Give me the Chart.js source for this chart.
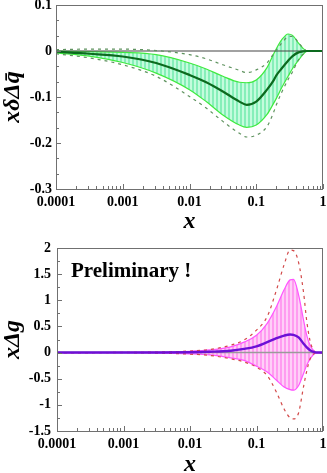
<!DOCTYPE html>
<html>
<head>
<meta charset="utf-8">
<script src="https://cdn.jsdelivr.net/npm/chart.js@4.4.0/dist/chart.umd.min.js"></script>
<style>
  html, body { margin: 0; padding: 0; background: #fff; overflow: hidden; }
  #wrap { position: relative; width: 327px; height: 473px; overflow: hidden; }
  canvas { position: absolute; left: 0; }
  #c1 { top: 0; }
  #c2 { top: 235px; }
  #prelim { position: absolute; left: 71px; top: 260px; font: bold 21px "Liberation Serif", serif; line-height: 21px; color: #000; white-space: nowrap; }
</style>
</head>
<body>
<div id="wrap">
  <canvas id="c1" width="327" height="235"></canvas>
  <canvas id="c2" width="327" height="243"></canvas>
  <div id="prelim">Preliminary !</div>
</div>
<script>
// === TOP PANEL: x * delta qbar ===
const xTop = [0.0001, 0.000316, 0.001, 0.00316, 0.01, 0.0178, 0.0316, 0.056, 0.072, 0.1, 0.145, 0.18, 0.2, 0.24, 0.3, 0.35, 0.43, 0.5, 0.58, 0.7, 1];
const qbarCentral = [-0.0015, -0.006, -0.012, -0.026, -0.052, -0.068, -0.088, -0.110, -0.117, -0.110, -0.084, -0.065, -0.053, -0.038, -0.021, -0.011, -0.003, -0.001, 0, 0, 0];
const qbarBandUp  = [0, -0.0015, -0.003, -0.008, -0.026, -0.039, -0.055, -0.068, -0.069, -0.063, -0.036, -0.008, 0.005, 0.024, 0.037, 0.034, 0.017, 0.006, 0, 0, 0];
const qbarBandLow = [-0.004, -0.011, -0.025, -0.048, -0.084, -0.110, -0.139, -0.161, -0.166, -0.161, -0.138, -0.115, -0.103, -0.080, -0.055, -0.038, -0.020, -0.008, 0, 0, 0];
const qbarDashUp  = [0.003, 0.004, 0.004, 0.001, -0.008, -0.017, -0.030, -0.042, -0.047, -0.041, -0.026, -0.007, 0.002, 0.017, 0.031, 0.032, 0.018, 0.007, 0, 0, 0];
const qbarDashLow = [-0.006, -0.015, -0.030, -0.055, -0.099, -0.124, -0.153, -0.179, -0.187, -0.183, -0.164, -0.135, -0.117, -0.090, -0.062, -0.045, -0.019, -0.007, 0, 0, 0];

// === BOTTOM PANEL: x * delta g ===
const xBot = [0.0001, 0.001, 0.003, 0.01, 0.02, 0.041, 0.065, 0.1, 0.145, 0.2, 0.26, 0.32, 0.36, 0.43, 0.51, 0.57, 0.64, 0.72, 0.8, 1];
const gCentral = [0, 0, 0.002, 0.007, 0.015, 0.035, 0.07, 0.12, 0.2, 0.275, 0.325, 0.346, 0.34, 0.29, 0.17, 0.1, 0.045, 0.012, 0, 0];
const gBandUp  = [0, 0.002, 0.008, 0.025, 0.05, 0.11, 0.2, 0.33, 0.56, 0.88, 1.2, 1.39, 1.40, 1.1, 0.62, 0.33, 0.14, 0.04, 0, 0];
const gBandLow = [0, -0.002, -0.008, -0.025, -0.045, -0.1, -0.15, -0.26, -0.37, -0.53, -0.66, -0.71, -0.72, -0.63, -0.40, -0.24, -0.12, -0.04, 0, 0];
const gDashUp  = [0, 0.003, 0.01, 0.03, 0.06, 0.14, 0.24, 0.43, 0.69, 1.2, 1.68, 1.96, 1.95, 1.72, 1.15, 0.6, 0.22, 0.045, 0, 0];
const gDashLow = [0, -0.003, -0.01, -0.03, -0.055, -0.12, -0.18, -0.28, -0.44, -0.76, -1.08, -1.25, -1.27, -1.15, -0.65, -0.35, -0.12, -0.03, 0, 0];

// === TICKS ===
const xTickValues = [0.0001, 0.001, 0.01, 0.1, 1];
const xTickLabels = ['0.0001', '0.001', '0.01', '0.1', '1'];
const yTickValuesTop = [-0.3, -0.2, -0.1, 0, 0.1];
const yTickLabelsTop = ['-0.3', '-0.2', '-0.1', '0', '0.1'];
const yTickValuesBot = [-1.5, -1, -0.5, 0, 0.5, 1, 1.5, 2];
const yTickLabelsBot = ['-1.5', '-1', '-0.5', '0', '0.5', '1', '1.5', '2'];

const SERIF = '"Liberation Serif", "Times New Roman", serif';

function pts(xs, ys) {
  return xs.map((x, i) => ({ x: x, y: ys[i] }));
}

function stripes(c1, c2) {
  const p = document.createElement('canvas');
  p.width = 4; p.height = 1;
  const g = p.getContext('2d');
  g.fillStyle = c1; g.fillRect(0, 0, 2, 1);
  g.fillStyle = c2; g.fillRect(2, 0, 2, 1);
  return g.createPattern(p, 'repeat');
}

// zero line under the curves, frame and inward tick marks
const frameTicks = {
  id: 'frameTicks',
  afterDatasetDraw(chart, args, opts) {
    if (args.index !== opts.zeroAfter) return;
    const ctx = chart.ctx;
    const y0 = chart.scales.y.getPixelForValue(0);
    const a = chart.chartArea;
    ctx.save();
    ctx.strokeStyle = opts.zeroColor;
    ctx.lineWidth = opts.zeroWidth;
    ctx.beginPath();
    ctx.moveTo(a.left, y0);
    ctx.lineTo(a.right, y0);
    ctx.stroke();
    ctx.restore();
  },
  afterDraw(chart, args, opts) {
    const ctx = chart.ctx;
    const a = chart.chartArea;
    const xs = chart.scales.x, ys = chart.scales.y;
    ctx.save();
    ctx.strokeStyle = '#707070';
    ctx.lineWidth = 1;
    ctx.beginPath();
    // x ticks: decades + 2..9
    for (let d = 0; d < xTickValues.length; d++) {
      const dec = xTickValues[d];
      for (let k = 1; k <= 9; k++) {
        const v = dec * k;
        if (v > xs.max * 1.0001) break;
        const px = Math.round(xs.getPixelForValue(v)) + 0.5;
        const len = k === 1 ? 5 : 3;
        ctx.moveTo(px, a.bottom);
        ctx.lineTo(px, a.bottom - len);
      }
    }
    // y ticks
    const n = Math.round((ys.max - ys.min) / opts.yMinor);
    for (let i = 0; i <= n; i++) {
      const v = ys.min + i * opts.yMinor;
      const py = Math.round(ys.getPixelForValue(v)) + 0.5;
      const major = i % opts.ySub === 0;
      ctx.moveTo(a.left, py);
      ctx.lineTo(a.left + (major ? 5 : 3), py);
    }
    ctx.stroke();
    ctx.strokeRect(Math.round(a.left) + 0.5, Math.round(a.top) + 0.5, Math.round(a.right - a.left) - 1, Math.round(a.bottom - a.top));
    ctx.restore();
  }
};

function makeChart(el, cfg) {
  const tickFont = { family: SERIF, size: 14, weight: 'bold' };
  const titleFont = { family: SERIF, size: 24, weight: 'bold', style: 'italic', lineHeight: 1 };
  return new Chart(el, {
    type: 'line',
    data: { datasets: cfg.datasets },
    options: {
      responsive: false,
      animation: false,
      events: [],
      layout: { padding: cfg.padding },
      elements: { point: { radius: 0 }, line: { cubicInterpolationMode: 'monotone' } },
      plugins: {
        legend: { display: false },
        tooltip: { enabled: false },
        frameTicks: cfg.frame
      },
      scales: {
        x: {
          type: 'logarithmic', min: 0.0001, max: 1,
          afterBuildTicks: s => { s.ticks = xTickValues.map(v => ({ value: v })); },
          afterFit: s => { s.height = cfg.xHeight; s.paddingLeft = 0; s.paddingRight = 0; },
          grid: { display: false, drawTicks: false },
          border: { display: false },
          ticks: { autoSkip: false, maxRotation: 0, padding: 5, color: '#000', font: tickFont,
                   callback: (v, i) => xTickLabels[i] },
          title: { display: true, text: 'x', color: '#000', font: titleFont, padding: { top: 0, bottom: 1 } }
        },
        y: {
          min: cfg.yMin, max: cfg.yMax,
          afterBuildTicks: s => { s.ticks = cfg.yTicks.map(v => ({ value: v })); },
          afterFit: s => { s.width = cfg.yWidth; s.paddingTop = 0; s.paddingBottom = 0; },
          grid: { display: false, drawTicks: false },
          border: { display: false },
          ticks: { padding: cfg.yPad, color: '#000', font: tickFont,
                   callback: (v, i) => cfg.yLabels[i] },
          title: { display: true, text: cfg.yTitle, color: '#000', font: titleFont, padding: { top: 1, bottom: 0 } }
        }
      }
    },
    plugins: [frameTicks]
  });
}

// === TOP CHART ===
const greenFill = stripes('#86efb9', '#c4fcdd');
makeChart(document.getElementById('c1'), {
  padding: { top: 5, right: 4, left: 0, bottom: 0 },
  xHeight: 46, yWidth: 56, yPad: 4,
  yMin: -0.3, yMax: 0.1,
  yTicks: yTickValuesTop, yLabels: yTickLabelsTop,
  yTitle: 'xδΔq\u0304',
  frame: { zeroAfter: 4, zeroColor: '#444', zeroWidth: 1.2, yMinor: 0.1 / 3, ySub: 3 },
  datasets: [
    { data: pts(xTop, qbarCentral), borderColor: '#0c6a1e', borderWidth: 2.2, fill: false },
    { data: pts(xTop, qbarDashUp), borderColor: '#5f935f', borderWidth: 1.2, borderDash: [3, 4], fill: false },
    { data: pts(xTop, qbarDashLow), borderColor: '#5f935f', borderWidth: 1.2, borderDash: [3, 4], fill: false },
    { data: pts(xTop, qbarBandLow), borderColor: '#3fea3f', borderWidth: 1.2, fill: false },
    { data: pts(xTop, qbarBandUp), borderColor: '#3fea3f', borderWidth: 1.2, fill: '-1', backgroundColor: greenFill }
  ]
});

// === BOTTOM CHART ===
const pinkFill = stripes('#ff9cf0', '#ffcff8');
makeChart(document.getElementById('c2'), {
  padding: { top: 13, right: 4, left: 0, bottom: 0 },
  xHeight: 47, yWidth: 57, yPad: 6,
  yMin: -1.5, yMax: 2,
  yTicks: yTickValuesBot, yLabels: yTickLabelsBot,
  yTitle: 'xΔg',
  frame: { zeroAfter: 4, zeroColor: '#9a9a9a', zeroWidth: 1.6, yMinor: 0.25, ySub: 2 },
  datasets: [
    { data: pts(xBot, gCentral), borderColor: '#6c10d6', borderWidth: 2.4, fill: false },
    { data: pts(xBot, gDashUp), borderColor: '#d24a4a', borderWidth: 1.2, borderDash: [3, 4], fill: false },
    { data: pts(xBot, gDashLow), borderColor: '#d24a4a', borderWidth: 1.2, borderDash: [3, 4], fill: false },
    { data: pts(xBot, gBandLow), borderColor: '#ff55ff', borderWidth: 1.2, fill: false },
    { data: pts(xBot, gBandUp), borderColor: '#ff55ff', borderWidth: 1.2, fill: '-1', backgroundColor: pinkFill }
  ]
});
</script>
</body>
</html>
